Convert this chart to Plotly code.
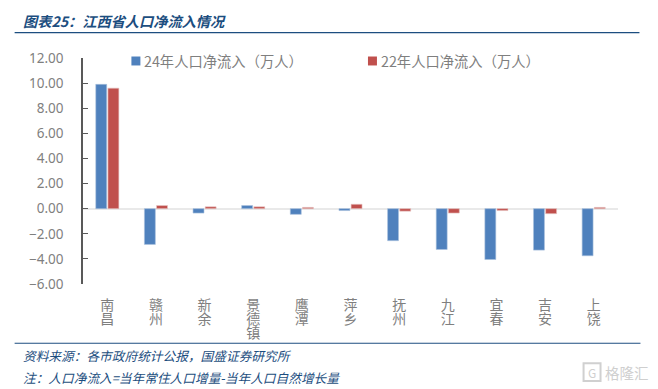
import plotly.graph_objects as go

cities = ["南昌", "赣州", "新余", "景德镇", "鹰潭", "萍乡", "抚州", "九江", "宜春", "吉安", "上饶"]
net_24 = [9.9, -2.85, -0.35, 0.25, -0.45, -0.15, -2.55, -3.25, -4.05, -3.3, -3.75]
net_22 = [9.6, 0.25, 0.15, 0.15, 0.1, 0.35, -0.2, -0.35, -0.15, -0.4, 0.1]
y_ticks = [-6, -4, -2, 0, 2, 4, 6, 8, 10, 12]
name_24 = "24年人口净流入（万人）"
name_22 = "22年人口净流入（万人）"
title = "图表25：江西省人口净流入情况"
source = "资料来源：各市政府统计公报，国盛证券研究所"
note = "注：人口净流入=当年常住人口增量-当年人口自然增长量"
watermark = "格隆汇"

OFF = 8  # page body margin
W, H = 658 - OFF, 389 - OFF
L, R, T, B = 82.5 - OFF, 618.5 - OFF, 57.5 - OFF, 284.5 - OFF
CJK = "Noto Sans CJK SC"
BLUE, RED = "#4f81bd", "#c0504d"
NAVY = "#1c4e80"
GREY = "#7f7f7f"


def px(x):
    return (x - OFF - L) / (R - L)


def py(y):
    return (B - (y - OFF)) / (B - T)


def stacked(s):
    return "<br>".join(f'<span style="font-size:14px">{c}</span>' for c in s)


fig = go.Figure()
fig.add_bar(x=cities, y=net_24, name=name_24, marker=dict(color=BLUE, line=dict(color="#a9c1de", width=0.6)))
fig.add_bar(x=cities, y=net_22, name=name_22, marker=dict(color=RED, line=dict(color="#e6c4c3", width=0.6)))


def rule(x0, x1, y, color=NAVY, width=1.2):
    return dict(type="line", xref="paper", yref="paper", x0=px(x0), x1=px(x1), y0=py(y), y1=py(y),
                line=dict(color=color, width=width))


def label(x, y, text, size, color, anchor="left", family=CJK):
    return dict(xref="paper", yref="paper", x=px(x), y=py(y), text=text, showarrow=False, xanchor=anchor,
                yanchor="middle", align="left", font=dict(size=size, color=color, family=family))


shapes = [rule(14, 640, 32, NAVY, 1.4), rule(14, 641, 344, NAVY, 1.2)]
for x0, col in ((131, BLUE), (368, RED)):
    shapes.append(dict(type="rect", xref="paper", yref="paper", x0=px(x0), x1=px(x0 + 9), y0=py(65), y1=py(56),
                       fillcolor=col, line=dict(width=0)))
shapes.append(dict(type="rect", xref="paper", yref="paper", x0=px(584), x1=px(601), y0=py(382), y1=py(364),
                   line=dict(color="#d0d0d0", width=2), fillcolor="rgba(0,0,0,0)"))

annotations = [
    label(20, 20, f"<b><i>{title}</i></b>", 14.2, NAVY),
    label(142, 60.5, name_24, 14.3, GREY),
    label(379, 60.5, name_22, 14.3, GREY),
    label(20, 356.5, f"<i>{source}</i>", 12.7, NAVY),
    label(20, 378, f"<i>{note}</i>", 12.7, NAVY),
    label(603, 373, watermark, 14.5, "#cfcfcf"),
    label(592.5, 373, "G", 12, "#cfcfcf", "center"),
]

fig.update_layout(
    width=W, height=H, autosize=False,
    margin=dict(l=L, r=W - R, t=T, b=H - B, pad=0),
    paper_bgcolor="white", plot_bgcolor="white",
    showlegend=False, barmode="group", bargap=0.5, bargroupgap=0.1,
    font=dict(family=CJK, color=GREY),
    shapes=shapes, annotations=annotations,
    xaxis=dict(tickmode="array", tickvals=cities, ticktext=[stacked(c) for c in cities],
               tickfont=dict(size=10.8, color=GREY, family=CJK), ticks="", showgrid=False, showline=False,
               zeroline=False, ticklabelstandoff=14, fixedrange=True),
    yaxis=dict(range=[-6, 12], tickvals=y_ticks, tickformat=".2f", ticks="inside", ticklen=5, tickwidth=1.3,
               tickcolor="#595959", showline=True, linecolor="#595959", linewidth=1.5, showgrid=False,
               zeroline=True, zerolinecolor="#e9e9e9", zerolinewidth=2,
               tickfont=dict(size=13.5, color=GREY, family="Noto Sans"), ticklabelstandoff=15, fixedrange=True),
)
fig.write_html("out.html", config=dict(displayModeBar=False))
